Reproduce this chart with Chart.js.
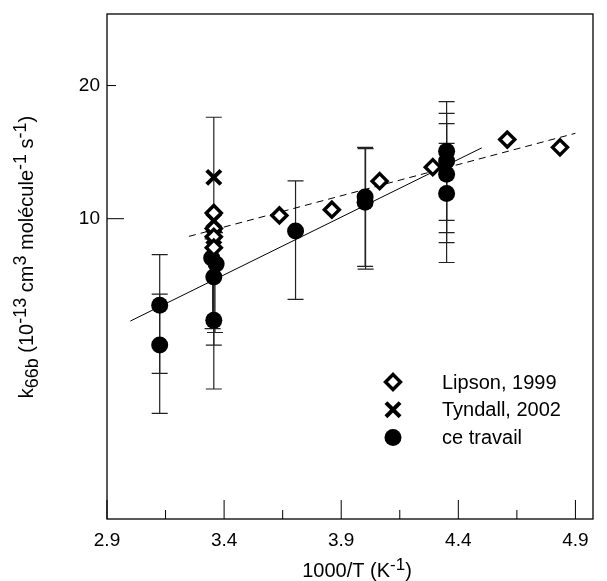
<!DOCTYPE html>
<html>
<head>
<meta charset="utf-8">
<script src="https://cdn.jsdelivr.net/npm/chart.js@4"></script>
<style>
html, body { margin: 0; padding: 0; background: #fff; }
canvas { display: block; }
</style>
</head>
<body>
<canvas id="chart" width="607" height="581"></canvas>
<script>
// Lipson, 1999 (open diamonds)
var lipsonX = [3.356, 3.356, 3.356, 3.356, 3.636, 3.86, 4.064, 4.291, 4.609, 4.834];
var lipsonY = [10.3, 9.5, 9.1, 8.6, 10.17, 10.48, 12.16, 13.08, 15.1, 14.5];

// Tyndall, 2002 (crosses)
var tyndallX = [3.356, 3.356, 3.356];
var tyndallY = [12.4, 9.9, 9.1];

// ce travail (filled circles)
var travailX = [3.125, 3.125, 3.347, 3.366, 3.356, 3.356, 3.705, 4.002, 4.002, 4.35, 4.35, 4.35, 4.35];
var travailY = [6.37, 5.18, 8.15, 7.9, 7.38, 5.89, 9.38, 11.19, 10.9, 14.2, 13.5, 12.6, 11.4];

// error bars of ce travail
var errX    = [3.125, 3.125, 3.356, 3.356, 3.351, 3.361, 3.705, 4.002, 4.004, 4.35, 4.35, 4.35, 4.35];
var errLow  = [3.63, 4.47, 4.12, 5.18, 5.64, 5.53, 6.57, 7.8, 7.69, 7.96, 8.83, 9.3, 9.91];
var errHigh = [8.29, 6.75, 16.96, 10.3, 9.0, 9.3, 12.18, 14.5, 14.4, 18.4, 17.3, 16.4, 14.8];

// fitted lines
var fitX = [3.0, 4.5];
var fitY = [5.87, 14.46];
var lipsonFitX = [3.25, 4.9];
var lipsonFitY = [9.12, 15.6];

// axes
var xTicks = [2.9, 3.4, 3.9, 4.4, 4.9];
var xMinorTicks = [3.15, 3.65, 4.15, 4.65];
var yTicks = [10, 20];

var legendLabels = ['Lipson, 1999', 'Tyndall, 2002', 'ce travail'];

function pts(xs, ys) {
    return xs.map(function(x, i) { return { x: x, y: ys[i] }; });
}

var FONT = "'Liberation Sans', Arial, sans-serif";

function drawRich(ctx, parts, size, small) {
    var total = 0;
    parts.forEach(function(p) {
        ctx.font = (p[1] ? small : size) + 'px ' + FONT;
        total += ctx.measureText(p[0]).width;
    });
    var x = -total / 2;
    parts.forEach(function(p) {
        ctx.font = (p[1] ? small : size) + 'px ' + FONT;
        ctx.fillText(p[0], x, p[1]);
        x += ctx.measureText(p[0]).width;
    });
}

var errorBars = {
    id: 'errorBars',
    beforeDatasetsDraw: function(chart) {
        var ctx = chart.ctx, xs = chart.scales.x, ys = chart.scales.y;
        ctx.save();
        ctx.strokeStyle = '#222';
        ctx.lineWidth = 1.2;
        errX.forEach(function(x, i) {
            var px = xs.getPixelForValue(x);
            var lo = ys.getPixelForValue(errLow[i]);
            var hi = ys.getPixelForValue(errHigh[i]);
            ctx.beginPath();
            ctx.moveTo(px, lo); ctx.lineTo(px, hi);
            ctx.moveTo(px - 8, lo); ctx.lineTo(px + 8, lo);
            ctx.moveTo(px - 8, hi); ctx.lineTo(px + 8, hi);
            ctx.stroke();
        });
        ctx.restore();
    }
};

var frame = {
    id: 'frame',
    afterDraw: function(chart) {
        var ctx = chart.ctx, a = chart.chartArea;
        var xs = chart.scales.x, ys = chart.scales.y;
        ctx.save();
        ctx.strokeStyle = '#000';
        ctx.lineWidth = 1.3;
        ctx.strokeRect(a.left, a.top, a.right - a.left, a.bottom - a.top);

        ctx.lineWidth = 1;
        ctx.beginPath();
        xTicks.forEach(function(v) {
            var p = xs.getPixelForValue(v);
            ctx.moveTo(p, a.bottom); ctx.lineTo(p, a.bottom - 19);
        });
        xMinorTicks.forEach(function(v) {
            var p = xs.getPixelForValue(v);
            ctx.moveTo(p, a.bottom); ctx.lineTo(p, a.bottom - 9);
        });
        yTicks.forEach(function(v, i) {
            var p = ys.getPixelForValue(v);
            ctx.moveTo(a.left, p); ctx.lineTo(a.left + (i === 0 ? 17 : 9), p);
        });
        ctx.stroke();

        ctx.fillStyle = '#000';
        ctx.font = '19px ' + FONT;
        ctx.textAlign = 'center';
        ctx.textBaseline = 'alphabetic';
        xTicks.forEach(function(v) {
            ctx.fillText(v.toFixed(1), xs.getPixelForValue(v), a.bottom + 27);
        });
        ctx.textAlign = 'right';
        ctx.textBaseline = 'middle';
        yTicks.forEach(function(v) {
            ctx.fillText(String(v), a.left - 7, ys.getPixelForValue(v));
        });

        // axis titles
        ctx.textAlign = 'left';
        ctx.textBaseline = 'alphabetic';
        ctx.save();
        ctx.translate(357, 577);
        drawRich(ctx, [['1000/T (K', 0], ['-1', -7], [')', 0]], 20, 17);
        ctx.restore();

        ctx.save();
        ctx.translate(33, 257);
        ctx.rotate(-Math.PI / 2);
        drawRich(ctx, [['k', 0], ['66b', 5], [' (10', 0], ['-13', -7], [' cm', 0], ['3', -7],
            [' molécule', 0], ['-1', -7], [' s', 0], ['-1', -7], [')', 0]], 20, 18);
        ctx.restore();

        // legend
        legendLabels.forEach(function(label, i) {
            var ds = chart.data.datasets[i];
            var ly = 382 + i * 27.7;
            ctx.fillStyle = ds.backgroundColor;
            ctx.strokeStyle = ds.borderColor;
            ctx.lineWidth = ds.borderWidth;
            Chart.helpers.drawPoint(ctx, {
                pointStyle: ds.pointStyle, radius: ds.pointRadius,
                borderWidth: ds.borderWidth, rotation: 0
            }, 393, ly);
            ctx.fillStyle = '#000';
            ctx.font = '20px ' + FONT;
            ctx.textAlign = 'left';
            ctx.textBaseline = 'middle';
            ctx.fillText(label, 442, ly + 1);
        });
        ctx.restore();
    }
};

new Chart(document.getElementById('chart'), {
    type: 'scatter',
    data: {
        datasets: [
            {
                label: legendLabels[0],
                data: pts(lipsonX, lipsonY),
                pointStyle: 'rectRot', pointRadius: 7.5,
                backgroundColor: '#fff', borderColor: '#000', borderWidth: 3.4,
                order: 0
            },
            {
                label: legendLabels[1],
                data: pts(tyndallX, tyndallY),
                pointStyle: 'crossRot', pointRadius: 10,
                backgroundColor: '#000', borderColor: '#000', borderWidth: 4,
                order: 1
            },
            {
                label: legendLabels[2],
                data: pts(travailX, travailY),
                pointStyle: 'circle', pointRadius: 8.5,
                backgroundColor: '#000', borderColor: '#000', borderWidth: 0,
                order: 2
            },
            {
                data: pts(fitX, fitY),
                showLine: true, pointRadius: 0, borderColor: '#000', borderWidth: 1,
                order: 3
            },
            {
                data: pts(lipsonFitX, lipsonFitY),
                showLine: true, pointRadius: 0, borderColor: '#000', borderWidth: 1,
                borderDash: [7, 5],
                order: 4
            }
        ]
    },
    options: {
        responsive: false,
        animation: false,
        events: [],
        layout: { padding: { left: 107, top: 13, right: 0, bottom: 62 } },
        plugins: { legend: { display: false }, tooltip: { enabled: false } },
        scales: {
            x: { type: 'linear', min: 2.9, max: 4.975, display: false },
            y: { type: 'logarithmic', min: 2.094, max: 29.03, display: false }
        }
    },
    plugins: [errorBars, frame]
});
</script>
</body>
</html>
